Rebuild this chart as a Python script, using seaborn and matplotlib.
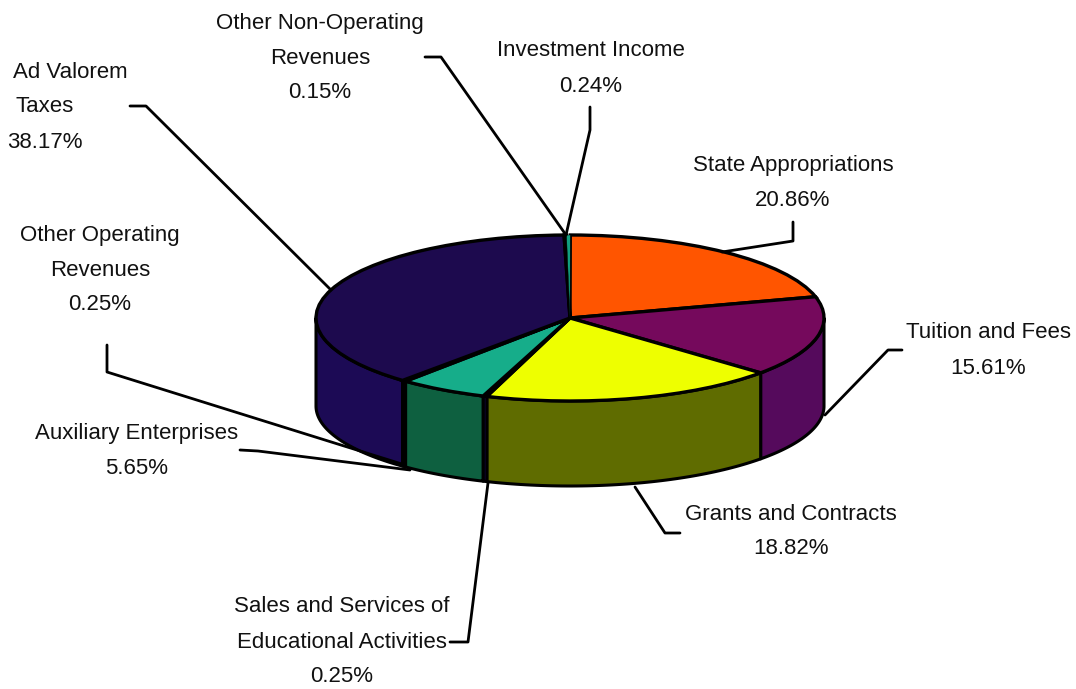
import numpy as np
import matplotlib
matplotlib.use('Agg')
import matplotlib.pyplot as plt
import seaborn as sns

# slices, clockwise from 12 o'clock
categories = ['Investment Income', 'State Appropriations', 'Tuition and Fees',
              'Grants and Contracts', 'Sales and Services of\nEducational Activities',
              'Auxiliary Enterprises', 'Other Operating\nRevenues', 'Ad Valorem\nTaxes',
              'Other Non-Operating\nRevenues']
values = [0.24, 20.86, 15.61, 18.82, 0.25, 5.65, 0.25, 38.17, 0.15]
top_colors = ['#12a080', '#ff5500', '#75095c', '#eeff00', '#1c0a50', '#16ad8a', '#12705a', '#1d0a4e', '#1d0a4e']
side_colors = ['#0c6a55', '#a83800', '#550a5c', '#5f6c00', '#1c0a55', '#0e6040', '#0e5a48', '#1c0a55', '#1c0a55']

# label position of the first line in pixels
label_x = [591, 793, 988, 791, 342, 137, 100, 70, 320]
label_y = [51, 166, 333, 514, 607, 433, 235, 72, 23]
line_gap = 35

# leader lines in pixels
leaders = [
    [(590, 107), (590, 130), (566, 235)],
    [(793, 222), (793, 241), (722, 252)],
    [(902, 350), (888, 350), (825, 415)],
    [(680, 533), (665, 533), (635, 487)],
    [(450, 642), (468, 642), (488, 483)],
    [(240, 450), (258, 451), (410, 470)],
    [(107, 345), (107, 372), (405, 465)],
    [(130, 106), (146, 106), (331, 290)],
    [(425, 57), (441, 57), (566, 235)],
]

W, H = 1076, 689
cx, cy = 570, 318
rx, ry = 254, 83
bottom_drop, bottom_ry = 88, 80
start_shift = 0.8

sns.set_theme(style='white')
plt.rcParams['font.family'] = ['Liberation Sans', 'DejaVu Sans']

fig = plt.figure(figsize=(W / 100, H / 100), dpi=100, facecolor='white')
ax = fig.add_axes([0, 0, 1, 1])


def px(x, y):
    return (x - cx) / rx, (cy - y) / ry


# side wall, only the front half shows
edges = np.cumsum([0] + values) / sum(values) * 360 - start_shift
for i in range(len(values)):
    a, b = max(edges[i], 90), min(edges[i + 1], 270)
    if a >= b:
        continue
    t = np.radians(np.linspace(a, b, 60))
    top_x, top_y = np.sin(t), np.cos(t)
    low_x = np.sin(t[::-1])
    low_y = (bottom_ry * np.cos(t[::-1]) - bottom_drop) / ry
    ax.fill(np.r_[top_x, low_x], np.r_[top_y, low_y], fc=side_colors[i],
            ec='black', lw=2.2, joinstyle='round', zorder=1)

# top face
wedges, _ = ax.pie(values, colors=top_colors, startangle=90 + start_shift, counterclock=False, radius=1,
                   wedgeprops=dict(edgecolor='black', linewidth=2.4, zorder=2))
# slivers would vanish under a full outline
for i in [0]:
    wedges[i].set_linewidth(0.3)
    wedges[i].set_zorder(2.5)
ax.set_aspect('auto')
ax.set_xlim(-cx / rx, (W - cx) / rx)
ax.set_ylim((cy - H) / ry, cy / ry)
ax.set_axis_off()

for pts in leaders:
    xy = np.array([px(*p) for p in pts])
    ax.plot(xy[:, 0], xy[:, 1], color='black', lw=2, zorder=3, clip_on=False)

for i, name in enumerate(categories):
    lines = name.split('\n') + ['%.2f%%' % values[i]]
    for j, line in enumerate(lines):
        x = label_x[i]
        if name.startswith('Ad Valorem') and j > 0:
            x = 45
        tx, ty = px(x, label_y[i] + j * line_gap)
        ax.text(tx, ty, line, ha='center', va='center', fontsize=16, color='#111111', zorder=4)

fig.savefig('out.png', dpi=100)
